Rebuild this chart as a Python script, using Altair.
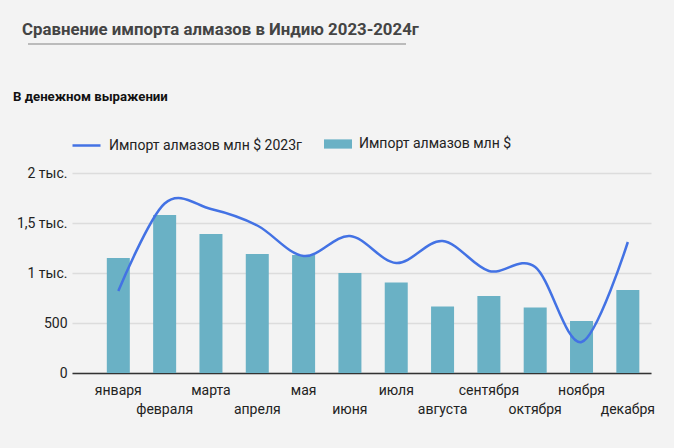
import altair as alt
import pandas as pd

months = ["января", "февраля", "марта", "апреля", "мая", "июня",
          "июля", "августа", "сентября", "октября", "ноября", "декабря"]
month_idx = list(range(1, 13))
imports_2024 = [1150, 1580, 1390, 1190, 1180, 1000, 905, 665, 770, 655, 520, 830]
imports_2023 = [820, 1695, 1640, 1475, 1170, 1370, 1100, 1320, 1020, 1060, 310, 1310]
y_ticks = [0, 250, 500, 750, 1000, 1250, 1500, 1750, 2000]

TITLE = "Сравнение импорта алмазов в Индию 2023-2024г"
SUBTITLE = "В денежном выражении"
BAR_NAME = "Импорт алмазов млн $"
LINE_NAME = "Импорт алмазов млн $ 2023г"

df = pd.DataFrame({"month": months, "idx": month_idx,
                   "v24": imports_2024, "v23": imports_2023})

FONT = "Roboto"
BAR_COLOR = "#6ab1c5"
LINE_COLOR = "#4372e4"

x_enc = alt.X("idx:Q", scale=alt.Scale(domain=[0, 12.5], nice=False, zero=False, padding=0),
              axis=alt.Axis(labels=False, ticks=False, grid=False, title=None,
                            domainColor="#333333", domainWidth=1.5))

label_expr = ("datum.value % 500 == 0 ? (datum.value >= 1000 ? "
              "replace(format(datum.value/1000, '~g'), '.', ',') + ' тыс.' : "
              "format(datum.value, 'd')) : ''")

y_axis = alt.Axis(values=y_ticks, labelExpr=label_expr, ticks=False, domain=False,
                  title=None, gridColor="#dcdcdc", gridWidth=1.5,
                  labelFontSize=14, labelColor="#222222", labelPadding=5, labelFont=FONT)

bars = alt.Chart(df).mark_bar(size=23).encode(
    x=x_enc,
    y=alt.Y("v24:Q", scale=alt.Scale(domain=[0, 2000], nice=False), axis=y_axis),
    fill=alt.Fill("series:N", scale=alt.Scale(domain=[BAR_NAME], range=[BAR_COLOR]),
                  legend=alt.Legend(title=None, orient="none", legendX=252, legendY=-43,
                                    symbolType="M-1,-0.33H1V0.33H-1Z", symbolSize=784,
                                    symbolStrokeWidth=0, labelFontSize=14, labelLimit=400,
                                    labelColor="#222222", labelFont=FONT, labelOffset=7)),
).transform_calculate(series=f"'{BAR_NAME}'")

line = alt.Chart(df).mark_line(interpolate="cardinal", strokeWidth=2.5).encode(
    x=x_enc,
    y=alt.Y("v23:Q"),
    stroke=alt.Stroke("series:N", scale=alt.Scale(domain=[LINE_NAME], range=[LINE_COLOR]),
                      legend=alt.Legend(title=None, orient="none", legendX=-1, legendY=-43,
                                        symbolType="stroke", symbolSize=784,
                                        symbolStrokeWidth=2.5, labelFontSize=14, labelLimit=400,
                                        labelColor="#222222", labelFont=FONT, labelOffset=7)),
).transform_calculate(series=f"'{LINE_NAME}'")

xlabels = alt.Chart(df).mark_text(fontSize=14, font=FONT, color="#222222",
                                  baseline="middle").encode(
    x=x_enc,
    y=alt.Y("ly:Q", scale=None),
    text="month:N",
).transform_calculate(ly="datum.idx % 2 == 1 ? 217.5 : 236.5")

one = pd.DataFrame({"t": [TITLE], "s": [SUBTITLE]})
title = alt.Chart(one).mark_text(fontSize=16.8, font=FONT, fontWeight="bold", color="#444444",
                                 align="left", baseline="alphabetic").encode(
    x=alt.value(-50), y=alt.value(-138), text="t:N")
subtitle = alt.Chart(one).mark_text(fontSize=13.2, font=FONT, fontWeight="bold", color="#111111",
                                    align="left", baseline="alphabetic").encode(
    x=alt.value(-59), y=alt.value(-72), text="s:N")
underline = alt.Chart(one).mark_rule(color="#a8a8a8", strokeWidth=1.5).encode(
    x=alt.value(-44), x2=alt.value(334), y=alt.value(-129))

chart = alt.layer(bars, line, xlabels, title, subtitle, underline).resolve_scale(
    fill="independent", stroke="independent"
).properties(
    width=579, height=200,
    autosize=alt.AutoSizeParams(type="none"),
    padding={"left": 72, "top": 173, "right": 23, "bottom": 75},
    background="#f3f3f3",
).configure_view(stroke=None)

chart.save("out.html", embed_options={"renderer": "svg", "actions": False})
